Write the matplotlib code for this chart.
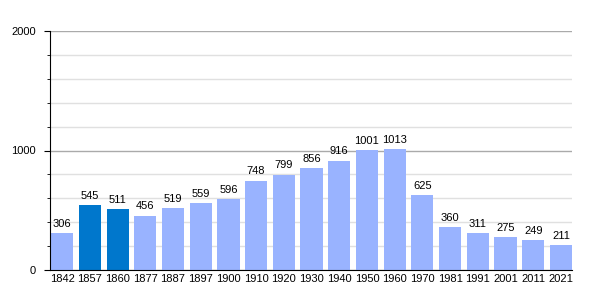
import matplotlib.pyplot as plt
from matplotlib.ticker import MultipleLocator

years = ['1842', '1857', '1860', '1877', '1887', '1897', '1900', '1910', '1920', '1930',
         '1940', '1950', '1960', '1970', '1981', '1991', '2001', '2011', '2021']
population = [306, 545, 511, 456, 519, 559, 596, 748, 799, 856,
              916, 1001, 1013, 625, 360, 311, 275, 249, 211]
highlight = ['1857', '1860']

plt.rcParams['font.family'] = ['Liberation Sans', 'DejaVu Sans']

fig = plt.figure(figsize=(6, 3), dpi=100)
ax = fig.add_axes([50 / 600, 0.1, 522 / 600, 239 / 300])

colors = ['#0077cc' if y in highlight else '#99b3ff' for y in years]
x = range(len(years))
bars = ax.bar(x, population, width=0.8, color=colors, zorder=2)

for b, v in zip(bars, population):
    ax.annotate(str(v), (b.get_x() + b.get_width() / 2, v), xytext=(0, 3),
                textcoords='offset points', ha='center', va='bottom', fontsize=8)

ax.set_xlim(-0.44, len(years) - 0.6)
ax.set_ylim(0, 2000)
ax.set_xticks(list(x))
ax.set_xticklabels(years, fontsize=8)
ax.tick_params(axis='x', length=0, pad=3)
ax.yaxis.set_major_locator(MultipleLocator(1000))
ax.yaxis.set_minor_locator(MultipleLocator(200))
ax.tick_params(axis='y', which='major', length=4, labelsize=8, pad=6)
ax.tick_params(axis='y', which='minor', length=2.5)
ax.grid(axis='y', which='major', color='#aaaaaa', linewidth=1, zorder=0)
ax.grid(axis='y', which='minor', color='#e0e0e0', linewidth=1, zorder=0)
ax.set_axisbelow(True)
for s in ['top', 'right']:
    ax.spines[s].set_visible(False)

fig.savefig('out.png')
